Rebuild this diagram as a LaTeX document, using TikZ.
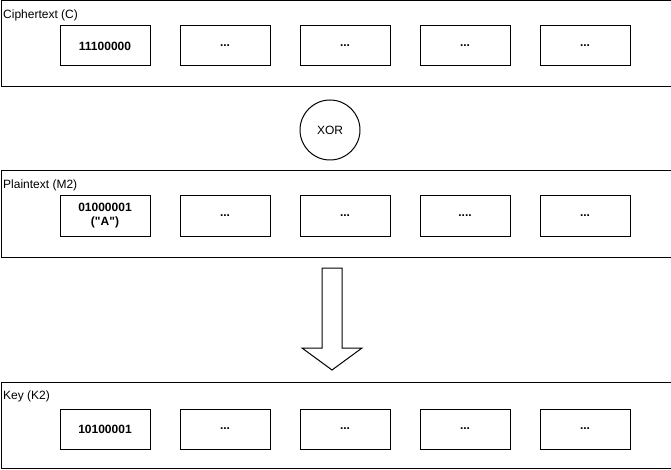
\documentclass[tikz,border=0pt]{standalone}
\usepackage{fontspec}
\setmainfont{Liberation Sans}
\usetikzlibrary{positioning}
\tikzset{
    bloco/.style={rectangle, draw, line width=1pt, minimum width=670pt, minimum height=86pt, anchor=north west},
    rotulo/.style={anchor=north west, inner sep=0pt, font=\fontsize{12}{14}\selectfont},
    byte/.style={rectangle, draw, line width=1pt, outer sep=0pt, minimum width=90pt, minimum height=40pt, align=center, font=\fontsize{12}{14}\selectfont\bfseries},
    operador/.style={circle, draw, line width=1pt, minimum size=60pt, inner sep=0pt, font=\fontsize{12}{14}\selectfont}
}
\begin{document}
\begin{tikzpicture}[x=1pt, y=-1pt]
        \useasboundingbox (0,0) rectangle (671,470);

        % Blocos (Ciphertext, Plaintext, Key)
        \node (cifra) [bloco] at (0.5,0.5) {};
        \node (plano) [bloco] at (0.5,170.5) {};
        \node (chave) [bloco] at (0.5,381.5) {};

        \node[rotulo] at (3,10) {Ciphertext (C)};
        \node[rotulo] at (3,180) {Plaintext (M2)};
        \node[rotulo] at (3,391) {Key (K2)};

        % Bytes do Ciphertext
        \node (c1) [byte] at (105,46) {11100000};
        \node (c2) [byte, right=30pt of c1] {...};
        \node (c3) [byte, right=30pt of c2] {...};
        \node (c4) [byte, right=30pt of c3] {...};
        \node (c5) [byte, right=30pt of c4] {...};

        % Operador
        \node (xor) [operador] at (330,130) {XOR};

        % Bytes do Plaintext
        \node (m1) [byte] at (105,216) {01000001\\(\textquotedbl A\textquotedbl)};
        \node (m2) [byte, right=30pt of m1] {...};
        \node (m3) [byte, right=30pt of m2] {...};
        \node (m4) [byte, right=30pt of m3] {....};
        \node (m5) [byte, right=30pt of m4] {...};

        % Bytes da Key
        \node (k1) [byte] at (105,429) {10100001};
        \node (k2) [byte, right=30pt of k1] {...};
        \node (k3) [byte, right=30pt of k2] {...};
        \node (k4) [byte, right=30pt of k3] {...};
        \node (k5) [byte, right=30pt of k4] {...};

        % Seta grande
        \draw[line width=1pt, line join=miter] (322,268) -- (342,268) -- (342,348) -- (362,348) -- (332,370) -- (302,348) -- (322,348) -- cycle;

    \end{tikzpicture}
\end{document}
